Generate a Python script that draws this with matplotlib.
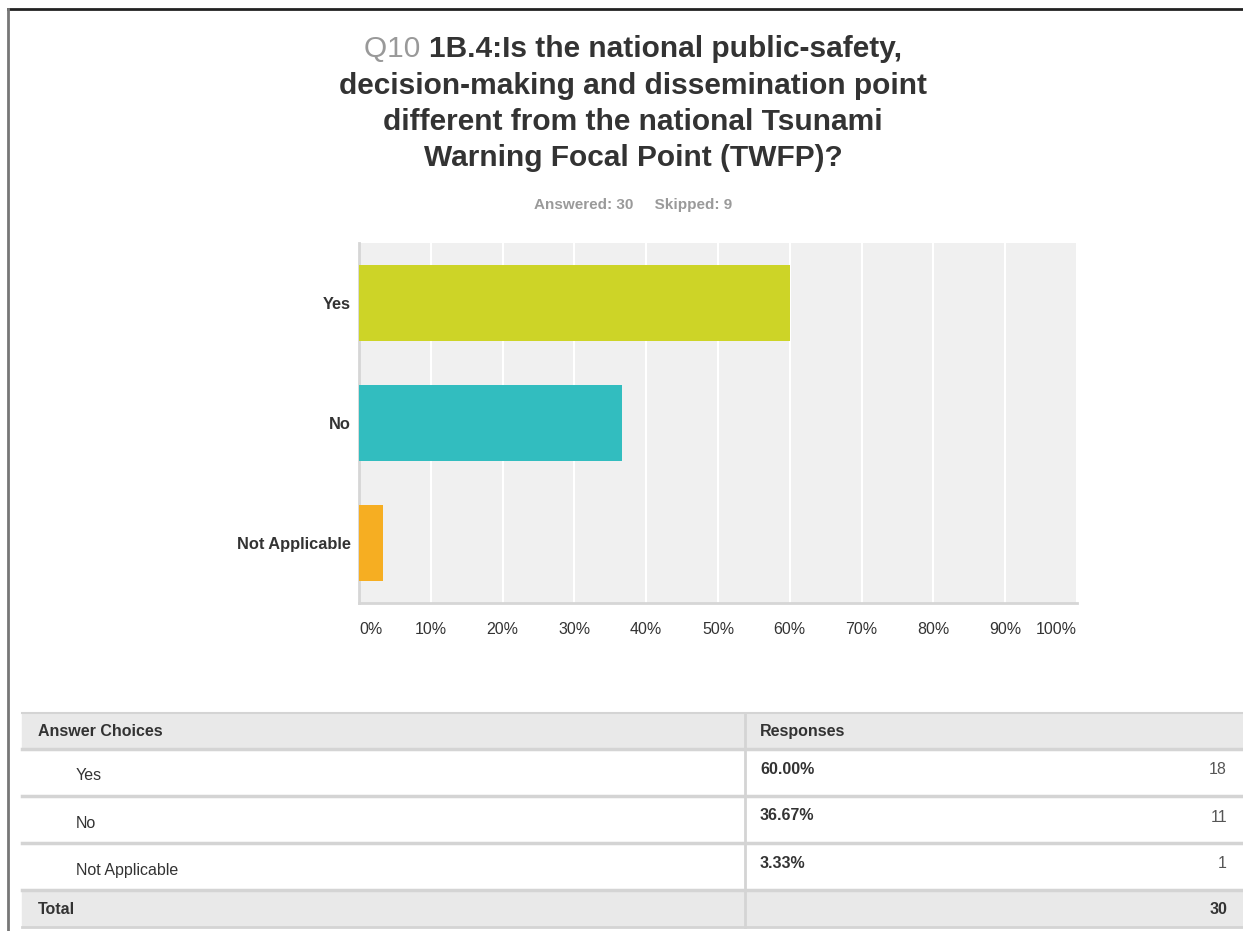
import matplotlib.pyplot as plt
from matplotlib.patches import Rectangle

plt.rcParams['font.family'] = ['Liberation Sans', 'DejaVu Sans']

# data
choices = ['Yes', 'No', 'Not Applicable']
percents = [60.00, 36.67, 3.33]
counts = [18, 11, 1]
colors = ['#cdd427', '#32bdbf', '#f6ae22']
xticks = [0, 10, 20, 30, 40, 50, 60, 70, 80, 90, 100]
title_q = 'Q10'
title_lines = ['1B.4:Is the national public-safety,',
               'decision-making and dissemination point',
               'different from the national Tsunami',
               'Warning Focal Point (TWFP)?']
answered = 30
skipped = 9

W, H = 1243, 931
dark = '#333333'
fig = plt.figure(figsize=(W / 100, H / 100), dpi=100)

# overlay axes in pixel coords for the page furniture and table
bg = fig.add_axes([0, 0, 1, 1])
bg.set_xlim(0, W)
bg.set_ylim(H, 0)
bg.axis('off')
bg.plot([8, W], [9, 9], color='#222222', lw=2)
bg.plot([8, 8], [9, H], color='#777777', lw=2)

# title, with the grey question number in front of the first line
cx = 633
tsize = 21.5
fig.canvas.draw()
r = fig.canvas.get_renderer()
tq = bg.text(0, 49, title_q + ' ', fontsize=tsize, color='#999999', va='center', ha='left')
t1 = bg.text(0, 49, title_lines[0], fontsize=tsize, weight='bold', color=dark, va='center', ha='left')
wq = tq.get_window_extent(r).width
w1 = t1.get_window_extent(r).width
x0 = cx - (wq + w1) / 2
tq.set_x(x0)
t1.set_x(x0 + wq)
for i, line in enumerate(title_lines[1:]):
    bg.text(cx, 86 + 36 * i, line, fontsize=tsize, weight='bold', color=dark,
            va='center', ha='center')
bg.text(cx, 205, f'Answered: {answered}     Skipped: {skipped}', fontsize=11,
        weight='bold', color='#9a9a9a', va='center', ha='center')

# bar chart
ax = fig.add_axes([359 / W, 1 - 603 / H, 718 / W, 360 / H])
ax.set_facecolor('#f0f0f0')
ypos = list(range(len(choices)))
ax.barh(ypos, percents, height=0.63, color=colors, zorder=3)
ax.set_xlim(0, 100)
ax.set_ylim(2.5, -0.5)
ax.set_xticks(xticks)
ax.grid(axis='x', color='white', lw=1.5, zorder=1)
ax.set_yticks(ypos)
ax.set_yticklabels(choices, fontsize=11.8, weight='bold', color=dark)
ax.set_xticklabels([f'{t}%' for t in xticks], fontsize=11.5, color=dark)
labs = ax.get_xticklabels()
labs[0].set_ha('left')
labs[-1].set_ha('right')
ax.tick_params(axis='both', length=0)
ax.tick_params(axis='x', pad=14)
ax.tick_params(axis='y', pad=6)
for s in ['top', 'right']:
    ax.spines[s].set_visible(False)
for s in ['left', 'bottom']:
    ax.spines[s].set_color('#d6d6d6')
    ax.spines[s].set_linewidth(2)

# table
tl, tr, div = 22, W, 745
hdr_top, hdr_bot = 713, 748
row_h = 47
grey = '#e9e9e9'
line_c = '#d4d4d4'
bg.add_patch(Rectangle((tl, hdr_top), tr - tl, hdr_bot - hdr_top, color=grey, zorder=1))
bg.text(38, (hdr_top + hdr_bot) / 2 + 1, 'Answer Choices', fontsize=11.5, weight='bold',
        color=dark, va='center')
bg.text(760, (hdr_top + hdr_bot) / 2 + 1, 'Responses', fontsize=11.5, weight='bold',
        color=dark, va='center')
bg.plot([tl, tr], [hdr_top, hdr_top], color=line_c, lw=1.5, zorder=2)
y = hdr_bot
for name, p, c in zip(choices, percents, counts):
    bg.plot([tl, tr], [y + 1, y + 1], color=line_c, lw=2.5, zorder=2)
    bg.text(76, y + 28, name, fontsize=11.5, color=dark, va='center')
    bg.text(760, y + 21, f'{p:.2f}%', fontsize=11.5, weight='bold', color=dark, va='center')
    bg.text(1227, y + 22, str(c), fontsize=11.5, color='#555555', va='center', ha='right')
    y += row_h
bg.plot([tl, tr], [y + 1, y + 1], color=line_c, lw=2.5, zorder=2)
bg.add_patch(Rectangle((tl, y + 2), tr - tl, 36, color=grey, zorder=1))
bg.text(38, y + 20, 'Total', fontsize=11.5, weight='bold', color=dark, va='center')
bg.text(1227, y + 20, str(sum(counts)), fontsize=11.5, weight='bold', color=dark,
        va='center', ha='right')
bg.plot([tl, tr], [y + 38, y + 38], color=line_c, lw=2, zorder=2)
bg.plot([div, div], [hdr_top, y + 38], color=line_c, lw=2, zorder=2)

fig.savefig('out.png', dpi=100)
